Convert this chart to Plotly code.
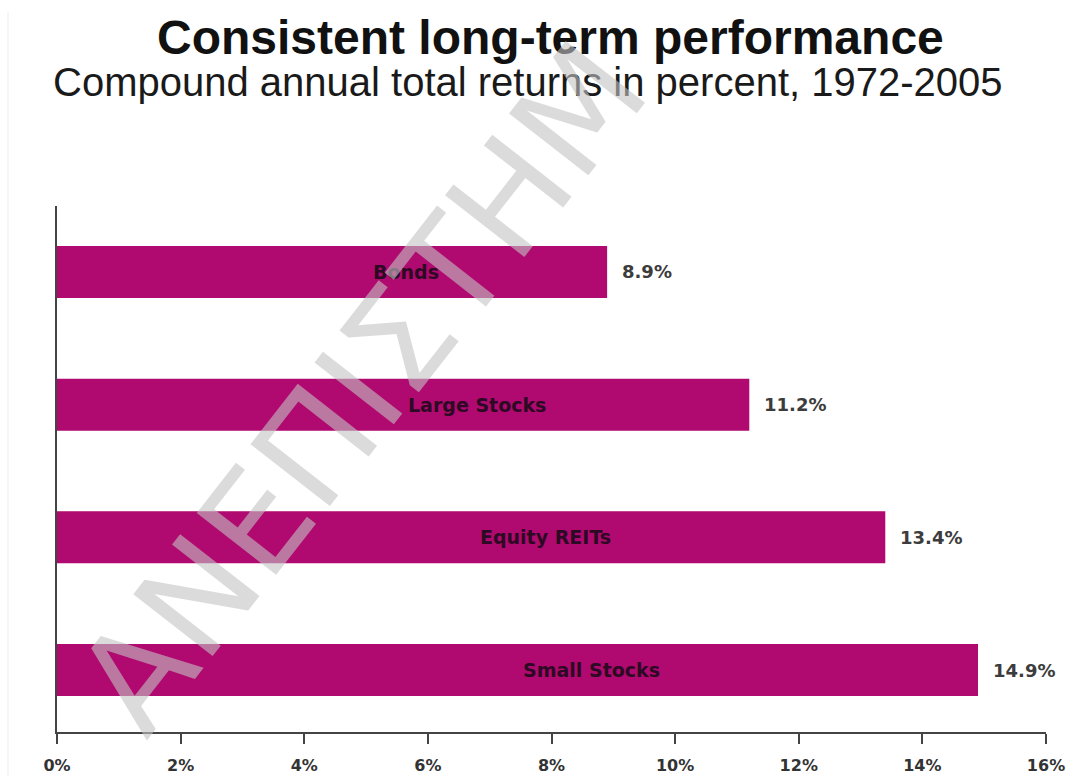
import plotly.graph_objects as go

categories = ["Bonds", "Large Stocks", "Equity REITs", "Small Stocks"]
returns = [8.9, 11.2, 13.4, 14.9]
tick_values = [0, 2, 4, 6, 8, 10, 12, 14, 16]
tick_labels = ["0%", "2%", "4%", "6%", "8%", "10%", "12%", "14%", "16%"]
title_text = "Consistent long-term performance"
subtitle_text = "Compound annual total returns in percent, 1972-2005"
watermark_text = "ΑΝΕΠΙΣΤΗΜ"

BAR = "#B0096F"
W, H = 1066, 776
L, R, T, B = 57, 20, 206, 44
pw, ph = W - L - R, H - T - B

def px_x(x):
    return (x - L) / pw

def px_y(y):
    return (H - B - y) / ph

fig = go.Figure()
fig.add_trace(go.Bar(
    x=returns, y=categories, orientation="h",
    marker=dict(color=BAR, line=dict(width=0)),
    width=0.392, hoverinfo="skip", showlegend=False,
))

annotations = []
for c, v in zip(categories, returns):
    annotations.append(dict(
        x=v / 2 + 1.2, y=c, xref="x", yref="y", text=c, showarrow=False,
        font=dict(family="DejaVu Sans", size=19, color="#2d0a24", weight="bold"),
        xanchor="center", yanchor="middle",
    ))
    annotations.append(dict(
        x=v, y=c, xref="x", yref="y", text=f"{v:.1f}%", showarrow=False,
        font=dict(family="DejaVu Sans", size=18, color="#3c3c3c", weight="bold"),
        xanchor="left", yanchor="middle", xshift=13,
    ))

annotations.append(dict(
    x=px_x(550), y=px_y(37), xref="paper", yref="paper", text=title_text,
    showarrow=False, xanchor="center", yanchor="middle",
    font=dict(family="Liberation Sans, Arial", size=48, color="#111111", weight="bold"),
))
annotations.append(dict(
    x=px_x(528), y=px_y(82), xref="paper", yref="paper", text=subtitle_text,
    showarrow=False, xanchor="center", yanchor="middle",
    font=dict(family="Liberation Sans, Arial", size=40, color="#1a1a1a"),
))
annotations.append(dict(
    x=px_x(362), y=px_y(387), xref="paper", yref="paper", text=watermark_text,
    showarrow=False, xanchor="center", yanchor="middle", textangle=-52,
    font=dict(family="DejaVu Sans", size=138, color="rgba(195,195,195,0.6)"),
))

fig.add_shape(type="line", xref="paper", yref="paper",
              x0=px_x(8), x1=px_x(8), y0=px_y(12), y1=px_y(776),
              line=dict(color="#ececec", width=1), layer="below")

fig.update_layout(
    width=W, height=H,
    margin=dict(l=L, r=R, t=T, b=B, pad=0, autoexpand=False),
    paper_bgcolor="white", plot_bgcolor="white",
    annotations=annotations,
    xaxis=dict(
        range=[0, 16], tickvals=tick_values, ticktext=tick_labels,
        showgrid=False, zeroline=False, showline=True, automargin=False,
        linecolor="#444444", linewidth=2,
        ticks="outside", ticklen=10, tickwidth=2, tickcolor="#444444",
        ticklabelstandoff=8,
        tickfont=dict(family="DejaVu Sans", size=16, color="#333333", weight="bold"),
        fixedrange=True,
    ),
    yaxis=dict(
        type="category", categoryorder="array", categoryarray=categories,
        range=[3.467, -0.497], showgrid=False, zeroline=False, automargin=False,
        showline=True, linecolor="#444444", linewidth=2,
        showticklabels=False, ticks="", fixedrange=True,
    ),
)

fig.write_html("out.html", config={"displayModeBar": False})
